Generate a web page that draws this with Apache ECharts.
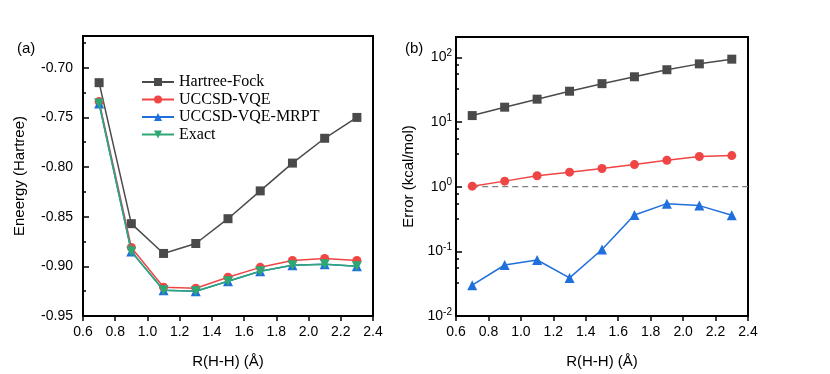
<!DOCTYPE html>
<html>
<head>
<meta charset="utf-8">
<script src="https://cdn.jsdelivr.net/npm/echarts@6/dist/echarts.min.js"></script>
<style>
  html, body { margin: 0; padding: 0; background: #fff; }
  #chart { width: 830px; height: 374px; }
</style>
</head>
<body>
<div id="chart"></div>
<script>
  // bond length R(H-H) in angstrom
  const rValues = [0.7, 0.9, 1.1, 1.3, 1.5, 1.7, 1.9, 2.1, 2.3]

  // (a) energies, Hartree
  const energyHF = [-0.715, -0.857, -0.887, -0.877, -0.852, -0.824, -0.796, -0.771, -0.750]
  const energyVQE = [-0.734, -0.881, -0.921, -0.922, -0.911, -0.901, -0.894, -0.892, -0.894]
  const energyMRPT = [-0.736, -0.885, -0.924, -0.925, -0.915, -0.905, -0.899, -0.898, -0.900]
  const energyExact = [-0.736, -0.885, -0.924, -0.925, -0.915, -0.905, -0.899, -0.898, -0.900]

  // (b) errors, kcal/mol
  const errorHF = [12.6, 17.0, 22.6, 30.0, 39.3, 50.2, 64.5, 79.5, 94.0]
  const errorVQE = [1.02, 1.22, 1.48, 1.68, 1.91, 2.2, 2.57, 2.93, 3.03]
  const errorMRPT = [0.030, 0.0615, 0.0735, 0.0388, 0.107, 0.366, 0.547, 0.51, 0.362]
  const chemAccuracyX = [0.7, 2.4]
  const chemAccuracyY = 1.0

  const names = ['Hartree-Fock', 'UCCSD-VQE', 'UCCSD-VQE-MRPT', 'Exact']
  const colors = ['#4a4a4a', '#f04545', '#1f6fdc', '#2ea873'] // 颜色
  const symbols = ['rect', 'circle', 'triangle', 'path://M0,0 L10,0 L5,9 Z']
  const symbolSizes = [9, 9, 10, 10]

  const pair = (ys) => rValues.map((x, i) => [x, ys[i]])
  const sans = 'Liberation Sans'

  function xAxisCfg(gridIndex) {
    return {
      type: 'value',
      gridIndex: gridIndex,
      min: 0.6,
      max: 2.4,
      interval: 0.2,
      name: 'R(H-H) (Å)',
      nameLocation: 'middle',
      nameGap: 38,
      nameTextStyle: { fontFamily: sans, fontSize: 15, color: '#000' },
      axisLine: { lineStyle: { color: '#000', width: 2 } },
      axisTick: { inside: false, length: 5, lineStyle: { color: '#000', width: 1.5 } },
      axisLabel: {
        margin: 9,
        fontFamily: sans,
        fontSize: 14,
        color: '#000',
        formatter: (v) => v.toFixed(1),
      },
      splitLine: { show: false },
    }
  }

  function lineSeries(k, ys, xi, yi) {
    return {
      name: names[k],
      type: 'line',
      xAxisIndex: xi,
      yAxisIndex: yi,
      data: pair(ys),
      symbol: symbols[k],
      symbolSize: symbolSizes[k],
      showAllSymbol: true,
      z: 2 + k,
      itemStyle: { color: colors[k] },
      lineStyle: { color: colors[k], width: 1.5 },
      emphasis: { disabled: true },
      animation: false,
    }
  }

  const option = {
    animation: false,
    backgroundColor: '#fff',
    title: [
      { text: '(a)', left: 12, top: 36, textStyle: { fontFamily: sans, fontSize: 15, fontWeight: 'normal', color: '#000' } },
      { text: '(b)', left: 400, top: 36, textStyle: { fontFamily: sans, fontSize: 15, fontWeight: 'normal', color: '#000' } },
    ],
    legend: {
      data: names,
      orient: 'vertical',
      left: 141,
      top: 74,
      padding: 0,
      itemWidth: 32,
      itemHeight: 10,
      itemGap: 1.5,
      selectedMode: false,
      textStyle: { fontFamily: 'Liberation Serif', fontSize: 16, lineHeight: 16, color: '#000' },
    },
    grid: [
      { left: 83, top: 36, width: 290, height: 281, show: true, borderColor: '#000', borderWidth: 2, backgroundColor: 'transparent' },
      { left: 456, top: 37, width: 292, height: 280, show: true, borderColor: '#000', borderWidth: 2, backgroundColor: 'transparent' },
    ],
    xAxis: [xAxisCfg(0), xAxisCfg(1)],
    yAxis: [
      {
        type: 'value',
        gridIndex: 0,
        min: -0.95,
        max: -0.668,
        interval: 0.05,
        name: 'Eneergy (Hartree)',
        nameLocation: 'middle',
        nameGap: 56,
        nameTextStyle: { fontFamily: sans, fontSize: 15, color: '#000' },
        axisLine: { lineStyle: { color: '#000', width: 2 } },
        axisTick: { inside: true, length: 6, lineStyle: { color: '#000', width: 1.5 } },
        minorTick: { show: true, splitNumber: 2, length: 3, lineStyle: { color: '#000', width: 1.5 } },
        axisLabel: {
          margin: 10,
          fontFamily: sans,
          fontSize: 14,
          color: '#000',
          showMaxLabel: false,
          formatter: (v) => v.toFixed(2),
        },
        splitLine: { show: false },
        minorSplitLine: { show: false },
      },
      {
        type: 'log',
        logBase: 10,
        gridIndex: 1,
        min: 0.01,
        max: 207,
        name: 'Error (kcal/mol)',
        nameLocation: 'middle',
        nameGap: 40,
        nameTextStyle: { fontFamily: sans, fontSize: 15, color: '#000' },
        axisLine: { lineStyle: { color: '#000', width: 2 } },
        axisTick: { inside: true, length: 6, lineStyle: { color: '#000', width: 1.5 } },
        minorTick: { show: true, splitNumber: 4, length: 3, lineStyle: { color: '#000', width: 1.5 } },
        axisLabel: {
          margin: 4,
          color: '#000',
          showMaxLabel: false,
          formatter: (v) => '10{s|' + Math.round(Math.log10(v)) + '}',
          rich: {
            s: { fontFamily: sans, fontSize: 10, color: '#000', padding: [0, 0, 8, 0] },
          },
          fontFamily: sans,
          fontSize: 14,
        },
        splitLine: { show: false },
        minorSplitLine: { show: false },
      },
    ],
    series: [
      lineSeries(0, energyHF, 0, 0),
      lineSeries(1, energyVQE, 0, 0),
      lineSeries(2, energyMRPT, 0, 0),
      lineSeries(3, energyExact, 0, 0),
      {
        name: 'chem-acc',
        type: 'line',
        xAxisIndex: 1,
        yAxisIndex: 1,
        data: chemAccuracyX.map((x) => [x, chemAccuracyY]),
        symbol: 'none',
        z: 1,
        lineStyle: { color: '#808080', width: 1.2, type: [6, 4] },
        emphasis: { disabled: true },
      },
      lineSeries(0, errorHF, 1, 1),
      lineSeries(1, errorVQE, 1, 1),
      lineSeries(2, errorMRPT, 1, 1),
    ],
  }

  const myChart = echarts.init(document.getElementById('chart'))
  myChart.setOption(option)
</script>
</body>
</html>
